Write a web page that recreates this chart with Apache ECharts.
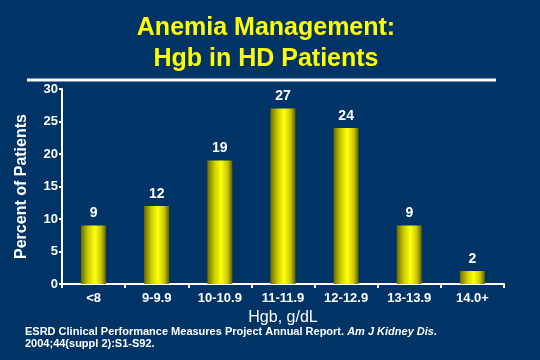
<!DOCTYPE html>
<html><head><meta charset="utf-8">
<script src="https://cdn.jsdelivr.net/npm/echarts@6/dist/echarts.min.js"></script>
<style>html,body{margin:0;padding:0;background:#003366;}#c{width:540px;height:360px;}</style>
</head><body><div id="c"></div>
<script>
var categories = ['<8', '9-9.9', '10-10.9', '11-11.9', '12-12.9', '13-13.9', '14.0+'];
var values = [9, 12, 19, 27, 24, 9, 2];
var yTicks = [0, 5, 10, 15, 20, 25, 30];

var chart = echarts.init(document.getElementById('c'));
var F = 'Liberation Sans, Arial, sans-serif';
var barColor = new echarts.graphic.LinearGradient(0, 0, 1, 0, [
  {offset: 0, color: '#6e6e00'},
  {offset: 0.3, color: '#d0d000'},
  {offset: 0.55, color: '#ffff10'},
  {offset: 0.8, color: '#c8c800'},
  {offset: 1, color: '#5e5e00'}
]);
chart.setOption({
  backgroundColor: '#003366',
  animation: false,
  title: {
    text: 'Anemia Management:\nHgb in HD Patients',
    left: 261, top: 8, textAlign: 'center',
    textStyle: {color: '#ffff00', fontFamily: F, fontWeight: 'bold', fontSize: 25, lineHeight: 31}
  },
  graphic: [
    {type: 'line', shape: {x1: 27, y1: 80, x2: 496, y2: 80}, style: {stroke: '#ffffff', lineWidth: 3}},
    {type: 'text', left: 25, top: 326, style: {
      text: '{b|ESRD Clinical Performance Measures Project Annual Report. }{i|Am J Kidney Dis.}\n{b|2004;44(suppl 2):S1-S92.}',
      rich: {
        b: {fill: '#fff', fontFamily: F, fontWeight: 'bold', fontSize: 11, lineHeight: 12},
        i: {fill: '#fff', fontFamily: F, fontWeight: 'bold', fontStyle: 'italic', fontSize: 11, lineHeight: 12}
      }
    }}
  ],
  grid: {left: 62, right: 36, top: 89, bottom: 76},
  xAxis: {
    type: 'category', data: categories,
    name: 'Hgb, g/dL', nameLocation: 'middle', nameGap: 23,
    nameTextStyle: {color: '#fff', fontFamily: F, fontSize: 16},
    axisLine: {lineStyle: {color: '#fff', width: 2}},
    axisTick: {show: true, length: 4, lineStyle: {color: '#fff', width: 2}},
    axisLabel: {color: '#fff', fontFamily: F, fontWeight: 'bold', fontSize: 13, margin: 8}
  },
  yAxis: {
    type: 'value', min: 0, max: 30, interval: 5,
    name: 'Percent of Patients', nameLocation: 'middle', nameGap: 32, nameRotate: 90,
    nameTextStyle: {color: '#fff', fontFamily: F, fontWeight: 'bold', fontSize: 16},
    axisLine: {show: true, lineStyle: {color: '#fff', width: 2}},
    axisTick: {show: true, length: 3, lineStyle: {color: '#fff', width: 2}},
    splitLine: {show: false},
    axisLabel: {color: '#fff', fontFamily: F, fontWeight: 'bold', fontSize: 13, margin: 4,
      formatter: function (v) { return yTicks.indexOf(v) >= 0 ? String(v) : ''; }}
  },
  series: [{
    type: 'bar', data: values, barWidth: 25,
    itemStyle: {color: barColor},
    label: {show: true, position: 'top', distance: 5, color: '#fff', fontFamily: F, fontWeight: 'bold', fontSize: 14}
  }]
});
</script></body></html>
